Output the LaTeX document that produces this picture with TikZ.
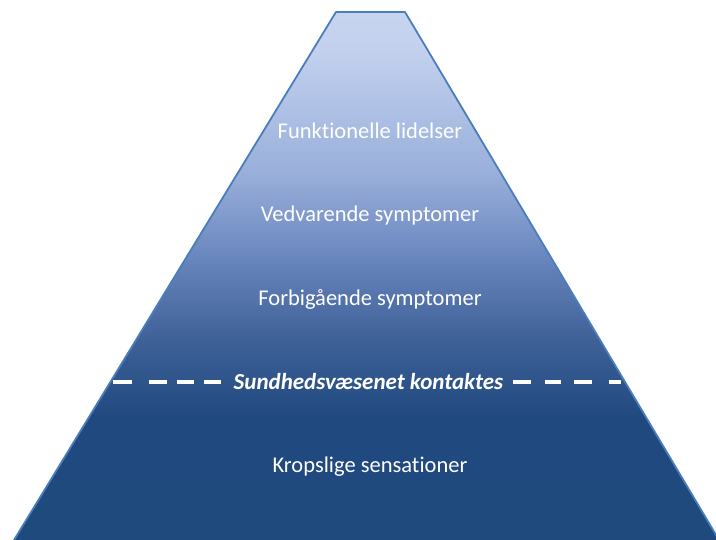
\documentclass[tikz,border=0pt]{standalone}
\usepackage{fontspec}
\setmainfont[Ligatures=NoCommon]{Carlito}
\definecolor{pyrdark}{HTML}{1F4A7E}
\definecolor{pyrd2}{HTML}{20497F}
\definecolor{pyrm1}{HTML}{3E6198}
\definecolor{pyrm2}{HTML}{6A87BF}
\definecolor{pyrm3}{HTML}{98AEDA}
\definecolor{pyrl1}{HTML}{C3D1EE}
\definecolor{pyrlight}{HTML}{C6D4F0}
\definecolor{pyredge}{HTML}{4A7EBB}
% path spans 25bp (bottom) .. 75bp (top)
\pgfdeclareverticalshading{pyrshade}{100bp}{color(0bp)=(pyrdark); color(25bp)=(pyrdark); color(36.5bp)=(pyrd2); color(44bp)=(pyrm1); color(52bp)=(pyrm2); color(59.5bp)=(pyrm3); color(71.5bp)=(pyrl1); color(75bp)=(pyrlight); color(100bp)=(pyrlight)}
\tikzset{
  lbl/.style={text=white, font=\fontsize{22.5}{27}\selectfont, anchor=base, inner sep=0pt},
  lblbold/.style={lbl, font=\fontsize{23}{27}\selectfont\bfseries\itshape},
  dashseg/.style={white, line width=4pt}
}
\begin{document}
\begin{tikzpicture}[x=1pt,y=-1pt]
\useasboundingbox (0,0) rectangle (716,540);
\clip (0,0) rectangle (716,540);
\shade[shading=pyrshade] (336,12) -- (405,12) -- (719,540) -- (14,540) -- cycle;
\draw[pyredge, line width=1.8pt, line join=round] (11,545) -- (336,12) -- (405,12) -- (722,545);
\node[lbl] (funk) at (370,138.5) {Funktionelle lidelser};
\node[lbl] (ved) at (370,222) {Vedvarende symptomer};
\node[lbl] (forb) at (370,306) {Forbigående symptomer};
\node[lblbold] (sund) at (368.5,389.5) {Sundhedsvæsenet kontaktes};
\node[lbl] (krop) at (370,473) {Kropslige sensationer};
\foreach \a/\b in {113/132,149/167,177/194,204/221,513/531,545/561,574/592,609/621}
  \draw[dashseg] (\a,382) -- (\b,382);
\end{tikzpicture}
\end{document}
